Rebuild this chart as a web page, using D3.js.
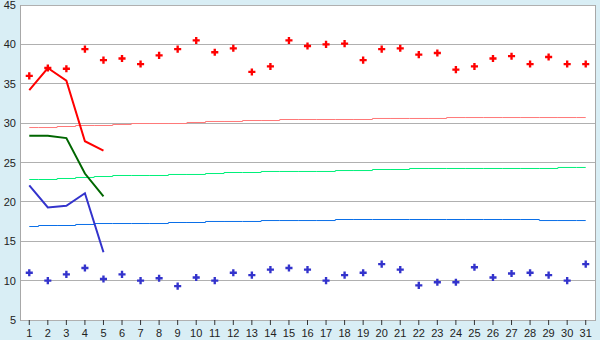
<!DOCTYPE html>
<html><head><meta charset="utf-8">
<script src="https://cdn.jsdelivr.net/npm/d3@7"></script>
<style>html,body{margin:0;padding:0;background:#d9eef5;} svg{display:block}</style>
</head><body>
<svg id="c" width="600" height="340"></svg>
<script>
// ---- data ----
const days = [1,2,3,4,5,6,7,8,9,10,11,12,13,14,15,16,17,18,19,20,21,22,23,24,25,26,27,28,29,30,31];
const yTicks = [5,10,15,20,25,30,35,40,45];
const recordHigh = [36.0,37.0,36.9,39.4,38.0,38.2,37.5,38.6,39.4,40.5,39.0,39.5,36.5,37.2,40.5,39.8,40.0,40.1,38.0,39.4,39.5,38.7,38.9,36.8,37.2,38.2,38.5,37.5,38.4,37.5,37.5];
const recordLow = [11.0,10.0,10.8,11.6,10.2,10.8,10.0,10.3,9.3,10.4,10.0,11.0,10.7,11.4,11.6,11.4,10.0,10.7,11.0,12.1,11.4,9.4,9.8,9.8,11.7,10.4,10.9,11.0,10.7,10.0,12.1];
const maxTemp = [34.2,37.0,35.4,27.7,26.5];
const meanTemp = [28.4,28.4,28.1,23.6,20.7];
const minTemp = [22.1,19.3,19.5,21.1,13.6];
const normalMax = [29.44,29.44,29.57,29.70,29.70,29.83,29.95,29.95,29.95,30.08,30.21,30.21,30.33,30.33,30.46,30.46,30.46,30.46,30.46,30.59,30.59,30.59,30.59,30.71,30.71,30.71,30.71,30.71,30.71,30.71,30.71];
const normalMean = [22.84,22.84,22.97,23.10,23.22,23.35,23.35,23.35,23.48,23.48,23.60,23.73,23.73,23.86,23.86,23.86,23.86,23.98,23.98,24.11,24.11,24.24,24.24,24.24,24.24,24.24,24.24,24.24,24.24,24.37,24.37];
const normalMin = [16.87,17.00,17.00,17.13,17.25,17.25,17.25,17.25,17.38,17.38,17.51,17.51,17.51,17.63,17.63,17.63,17.63,17.76,17.76,17.76,17.76,17.76,17.76,17.76,17.76,17.76,17.76,17.76,17.63,17.63,17.63];

// ---- chart ----
const W = 600, H = 340, L = 20, R = 595, T = 5, B = 320;
const svg = d3.select('#c');
svg.append('rect').attr('width', W).attr('height', H).attr('fill', '#d9eef5');
svg.append('rect').attr('x', L).attr('y', T).attr('width', R - L).attr('height', B - T).attr('fill', '#fff');

const x = d3.scaleBand().domain(days).range([L, R]);
const cx = d => x(d) + x.bandwidth() / 2;
const y = d3.scaleLinear().domain([5, 45]).range([B, T]);
const snap = v => Math.floor(v) + 0.5;

// gridlines
svg.append('g').selectAll('line').data(yTicks).join('line')
  .attr('x1', L).attr('x2', R)
  .attr('y1', d => snap(y(d))).attr('y2', d => snap(y(d)))
  .attr('stroke', '#b0b0b0').attr('stroke-width', 1);

// frame
svg.append('line').attr('x1', L + 0.5).attr('x2', L + 0.5).attr('y1', T).attr('y2', B + 1).attr('stroke', '#a8a8a8');
svg.append('line').attr('x1', R + 0.5).attr('x2', R + 0.5).attr('y1', T).attr('y2', B + 1).attr('stroke', '#a8a8a8');

// axes
const font = '"Liberation Sans", Arial, sans-serif';
const yAxis = svg.append('g').attr('transform', `translate(${L},0)`)
  .call(d3.axisLeft(y).tickValues(yTicks).tickSize(0).tickPadding(4));
yAxis.select('.domain').remove();
yAxis.selectAll('text').attr('font-family', font).attr('font-size', 11).attr('fill', '#222');

const xAxis = svg.append('g').attr('transform', `translate(0,${B})`)
  .call(d3.axisBottom(x).tickSize(5).tickPadding(4));
xAxis.select('.domain').remove();
xAxis.selectAll('line').attr('stroke', '#333');
xAxis.selectAll('text').attr('font-family', font).attr('font-size', 11).attr('fill', '#222');

// normal step lines
function stepLine(vals, color) {
  svg.append('path').datum(vals)
    .attr('fill', 'none').attr('stroke', color).attr('stroke-width', 1)
    .attr('d', d3.line().x((d, i) => cx(days[i])).y(d => y(d)).curve(d3.curveStep));
}
stepLine(normalMax, '#ff7878');
stepLine(normalMean, '#00f07a');
stepLine(normalMin, '#0a6fe8');

// observed lines
function obsLine(vals, color) {
  svg.append('path').datum(vals)
    .attr('fill', 'none').attr('stroke', color).attr('stroke-width', 2)
    .attr('stroke-linejoin', 'miter')
    .attr('d', d3.line().x((d, i) => cx(days[i])).y(d => y(d)));
}
obsLine(maxTemp, '#ff0000');
obsLine(meanTemp, '#006600');
obsLine(minTemp, '#3333cc');

// record markers
const sym = d3.symbol().type(d3.symbolCross).size(28);
function markers(vals, color) {
  svg.append('g').selectAll('path').data(vals).join('path')
    .attr('transform', (d, i) => `translate(${cx(days[i])},${y(d)})`)
    .attr('d', sym).attr('fill', color);
}
markers(recordHigh, '#ff0000');
markers(recordLow, '#3333cc');
</script>
</body></html>
